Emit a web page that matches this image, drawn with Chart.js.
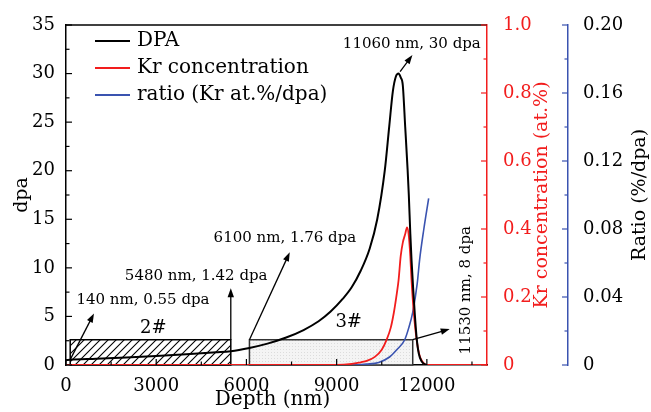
<!DOCTYPE html>
<html>
<head>
<meta charset="utf-8">
<script src="https://cdn.jsdelivr.net/npm/chart.js@4.4.0/dist/chart.umd.min.js"></script>
<style>
  html, body { margin: 0; padding: 0; background: #fff; }
</style>
</head>
<body>
<canvas id="c" width="651" height="412"></canvas>
<script>
// depth (nm) / dpa
const dpaDepth  = [0, 140, 1000, 2000, 3000, 4000, 5000, 5480, 6100, 6700, 7300, 7900, 8400, 8800, 9200, 9500, 9800, 10100, 10350, 10600, 10750, 10870, 10970, 11060, 11130, 11200, 11280, 11360, 11400, 11450, 11490, 11550, 11600, 11660, 11730, 11820, 11950, 12000];
const dpaValues = [0.5, 0.55, 0.65, 0.78, 0.93, 1.1, 1.3, 1.42, 1.76, 2.2, 2.8, 3.6, 4.5, 5.5, 6.8, 8.0, 9.7, 12.0, 15.0, 20.0, 24.6, 28.2, 29.7, 30.0, 29.6, 28.8, 24.5, 20.1, 17.5, 13.5, 10.8, 7.6, 5.2, 2.8, 1.2, 0.4, 0.05, 0];

// Kr concentration (at.%)
const krDepth  = [0, 9000, 9500, 9800, 10000, 10270, 10500, 10660, 10800, 10900, 11000, 11060, 11130, 11200, 11280, 11340, 11400, 11450, 11490, 11560, 11660, 11750, 11850, 11990, 14000];
const krValues = [0, 0, 0.003, 0.008, 0.012, 0.024, 0.045, 0.074, 0.11, 0.153, 0.21, 0.25, 0.32, 0.36, 0.385, 0.405, 0.38, 0.32, 0.25, 0.16, 0.074, 0.03, 0.01, 0, 0];

// ratio (Kr at.% / dpa)
const ratioDepth  = [0, 9500, 10000, 10400, 10760, 11000, 11260, 11400, 11530, 11680, 11760, 11900, 12060];
const ratioValues = [0, 0, 0.0005, 0.0015, 0.0047, 0.009, 0.0147, 0.022, 0.031, 0.048, 0.062, 0.08, 0.098];

const xTickValues = [0, 3000, 6000, 9000, 12000];
const dpaTickValues = [0, 5, 10, 15, 20, 25, 30, 35];
const krTickValues = [0, 0.2, 0.4, 0.6, 0.8, 1.0];
const ratioTickValues = [0, 0.04, 0.08, 0.12, 0.16, 0.20];

// sample boxes: depth range and height in dpa
const boxLabels = ['2#', '3#'];
const boxStart  = [140, 6100];
const boxEnd    = [5480, 11530];
const boxTop    = [2.6, 2.6];
const boxLabelDepth = [2900, 9400];
const boxLabelDpa = [3.8, 4.4];

// annotations (data units)
const noteTexts = ['140 nm, 0.55 dpa', '5480 nm, 1.42 dpa', '6100 nm, 1.76 dpa', '11060 nm, 30 dpa', '11530 nm, 8 dpa'];
const noteDepth = [2560, 4330, 7280, 11500, 13320];
const noteDpa   = [6.7, 9.1, 13.1, 33.0, 7.7];
const arrowFrom = [[140, 0.55], [5480, 2.6], [6100, 2.6], [11110, 30.2], [11530, 2.6]];
const arrowTo   = [[930, 5.3], [5480, 7.9], [7440, 11.6], [11520, 31.9], [12760, 3.7]];

const SERIF = '"DejaVu Serif", serif';
const RED = '#f21d1d';
const BLUE = '#3a53b0';

const pts = (xs, ys) => xs.map((x, i) => ({ x, y: ys[i] }));
const fixTicks = vals => s => { s.ticks = vals.map(v => ({ value: v })); };

function hatch(ctx) {
  const c = document.createElement('canvas');
  c.width = 8; c.height = 8;
  const g = c.getContext('2d');
  g.fillStyle = '#fff'; g.fillRect(0, 0, 8, 8);
  g.strokeStyle = '#000'; g.lineWidth = 1.1;
  g.beginPath();
  g.moveTo(0, 8); g.lineTo(8, 0);
  g.moveTo(-1, 1); g.lineTo(1, -1);
  g.moveTo(7, 9); g.lineTo(9, 7);
  g.stroke();
  return ctx.createPattern(c, 'repeat');
}

function dots(ctx) {
  const c = document.createElement('canvas');
  c.width = 3; c.height = 3;
  const g = c.getContext('2d');
  g.fillStyle = '#f4f4f4'; g.fillRect(0, 0, 3, 3);
  g.fillStyle = '#dcdcdc'; g.fillRect(1, 1, 1, 1);
  return ctx.createPattern(c, 'repeat');
}

function arrow(ctx, x1, y1, x2, y2) {
  const a = Math.atan2(y2 - y1, x2 - x1), L = 9, W = 3.2;
  ctx.beginPath();
  ctx.moveTo(x1, y1);
  ctx.lineTo(x2 - L * 0.8 * Math.cos(a), y2 - L * 0.8 * Math.sin(a));
  ctx.stroke();
  ctx.beginPath();
  ctx.moveTo(x2, y2);
  ctx.lineTo(x2 - L * Math.cos(a) + W * Math.sin(a), y2 - L * Math.sin(a) - W * Math.cos(a));
  ctx.lineTo(x2 - L * Math.cos(a) - W * Math.sin(a), y2 - L * Math.sin(a) + W * Math.cos(a));
  ctx.closePath();
  ctx.fill();
}

function innerTicks(ctx, scale, horizontal, base, dir, color) {
  const vals = scale.ticks.map(t => t.value);
  const step = vals[1] - vals[0];
  ctx.strokeStyle = color;
  ctx.lineWidth = 1.2;
  const mark = (v, len) => {
    const p = scale.getPixelForValue(v);
    ctx.beginPath();
    if (horizontal) { ctx.moveTo(p, base); ctx.lineTo(p, base + dir * len); }
    else { ctx.moveTo(base, p); ctx.lineTo(base + dir * len, p); }
    ctx.stroke();
  };
  vals.forEach(v => {
    mark(v, 6);
    if (v + step / 2 <= scale.max + 1e-9) mark(v + step / 2, 3.5);
  });
}

const decor = {
  id: 'decor',
  beforeDatasetsDraw(chart) {
    const { ctx, scales: { x, y } } = chart;
    ctx.save();
    boxLabels.forEach((lab, i) => {
      const l = x.getPixelForValue(boxStart[i]), r = x.getPixelForValue(boxEnd[i]);
      const t = y.getPixelForValue(boxTop[i]), b = y.getPixelForValue(0);
      ctx.fillStyle = i === 0 ? hatch(ctx) : dots(ctx);
      ctx.fillRect(l, t, r - l, b - t);
      ctx.strokeStyle = i === 0 ? '#000' : '#333';
      ctx.lineWidth = 1.5;
      ctx.strokeRect(l, t, r - l, b - t);
      ctx.fillStyle = '#000';
      ctx.font = '18px ' + SERIF;
      ctx.textAlign = 'center';
      ctx.textBaseline = 'middle';
      ctx.fillText(lab, x.getPixelForValue(boxLabelDepth[i]), y.getPixelForValue(boxLabelDpa[i]));
    });
    ctx.restore();
  },
  afterDatasetsDraw(chart) {
    const { ctx, chartArea: ca, scales: { x, y, y1, y2 } } = chart;
    ctx.save();
    // top frame
    ctx.strokeStyle = '#000';
    ctx.lineWidth = 1.5;
    ctx.beginPath(); ctx.moveTo(ca.left, ca.top); ctx.lineTo(ca.right, ca.top); ctx.stroke();

    innerTicks(ctx, x, true, ca.bottom, -1, '#000');
    innerTicks(ctx, y, false, ca.left, 1, '#000');
    innerTicks(ctx, y1, false, y1.left, -1, RED);
    innerTicks(ctx, y2, false, y2.left, -1, BLUE);

    // annotations
    ctx.strokeStyle = '#000';
    ctx.fillStyle = '#000';
    ctx.lineWidth = 1.3;
    arrowFrom.forEach((f, i) => {
      arrow(ctx, x.getPixelForValue(f[0]), y.getPixelForValue(f[1]),
        x.getPixelForValue(arrowTo[i][0]), y.getPixelForValue(arrowTo[i][1]));
    });
    ctx.font = '15px ' + SERIF;
    ctx.textAlign = 'center';
    ctx.textBaseline = 'middle';
    noteTexts.forEach((t, i) => {
      const px = x.getPixelForValue(noteDepth[i]), py = y.getPixelForValue(noteDpa[i]);
      if (i === noteTexts.length - 1) {
        ctx.save(); ctx.translate(px, py); ctx.rotate(-Math.PI / 2); ctx.fillText(t, 0, 0); ctx.restore();
      } else {
        ctx.fillText(t, px, py);
      }
    });

    // legend
    ctx.font = '20px ' + SERIF;
    ctx.textAlign = 'left';
    chart.data.datasets.forEach((ds, i) => {
      const ly = ca.top + 16 + i * 27;
      ctx.strokeStyle = ds.borderColor;
      ctx.lineWidth = 2;
      ctx.beginPath(); ctx.moveTo(ca.left + 29, ly); ctx.lineTo(ca.left + 64, ly); ctx.stroke();
      ctx.fillStyle = '#000';
      ctx.fillText(ds.label, ca.left + 71, ly);
    });

    // axis titles
    const mid = (ca.top + ca.bottom) / 2;
    const vtitle = (t, px, color) => {
      ctx.save(); ctx.translate(px, mid); ctx.rotate(-Math.PI / 2);
      ctx.fillStyle = color; ctx.textAlign = 'center'; ctx.fillText(t, 0, 0); ctx.restore();
    };
    ctx.font = '19px ' + SERIF;
    vtitle('dpa', ca.left - 44, '#000');
    vtitle('Kr concentration (at.%)', y1.left + 55, RED);
    vtitle('Ratio (%/dpa)', y2.left + 72, '#000');
    ctx.font = '20px ' + SERIF;
    ctx.fillStyle = '#000';
    ctx.textAlign = 'center';
    ctx.fillText('Depth (nm)', (ca.left + ca.right) / 2 - 4, ca.bottom + 35);
    ctx.restore();
  }
};

const tickFont = { family: SERIF, size: 18 };

new Chart(document.getElementById('c'), {
  type: 'line',
  data: {
    datasets: [
      { label: 'DPA', data: pts(dpaDepth, dpaValues), borderColor: '#000', borderWidth: 2, yAxisID: 'y' },
      { label: 'Kr concentration', data: pts(krDepth, krValues), borderColor: RED, borderWidth: 1.8, yAxisID: 'y1' },
      { label: 'ratio (Kr at.%/dpa)', data: pts(ratioDepth, ratioValues), borderColor: BLUE, borderWidth: 1.6, yAxisID: 'y2' },
    ]
  },
  options: {
    responsive: false,
    animation: false,
    devicePixelRatio: 1,
    layout: { padding: { top: 25, left: 0, right: 0, bottom: 0 } },
    elements: { point: { radius: 0 }, line: { tension: 0.4, cubicInterpolationMode: 'monotone' } },
    plugins: { legend: { display: false }, tooltip: { enabled: false } },
    scales: {
      x: {
        type: 'linear', min: 0, max: 14000,
        grid: { display: false },
        border: { color: '#000', width: 1.5 },
        ticks: { maxRotation: 0, autoSkip: false, color: '#000', font: tickFont, padding: 3, callback: v => String(v) },
        afterBuildTicks: fixTicks(xTickValues),
        afterFit: s => { s.height = 47; }
      },
      y: {
        position: 'left', min: 0, max: 35,
        grid: { display: false },
        border: { color: '#000', width: 1.5 },
        ticks: { color: '#000', font: tickFont, padding: 3, callback: v => String(v) },
        afterBuildTicks: fixTicks(dpaTickValues),
        afterFit: s => { s.width = 66; }
      },
      y1: {
        position: 'right', weight: 0, min: 0, max: 1,
        grid: { display: false },
        border: { color: RED, width: 1.5 },
        ticks: { color: RED, font: tickFont, padding: 8, callback: v => v === 0 ? '0' : v.toFixed(1) },
        afterBuildTicks: fixTicks(krTickValues),
        afterFit: s => { s.width = 81; }
      },
      y2: {
        position: 'right', weight: 1, min: 0, max: 0.2,
        grid: { display: false },
        border: { color: BLUE, width: 1.5 },
        ticks: { color: '#000', font: tickFont, padding: 7, callback: v => v === 0 ? '0' : v.toFixed(2) },
        afterBuildTicks: fixTicks(ratioTickValues),
        afterFit: s => { s.width = 83; }
      }
    }
  },
  plugins: [decor]
});
</script>
</body>
</html>
